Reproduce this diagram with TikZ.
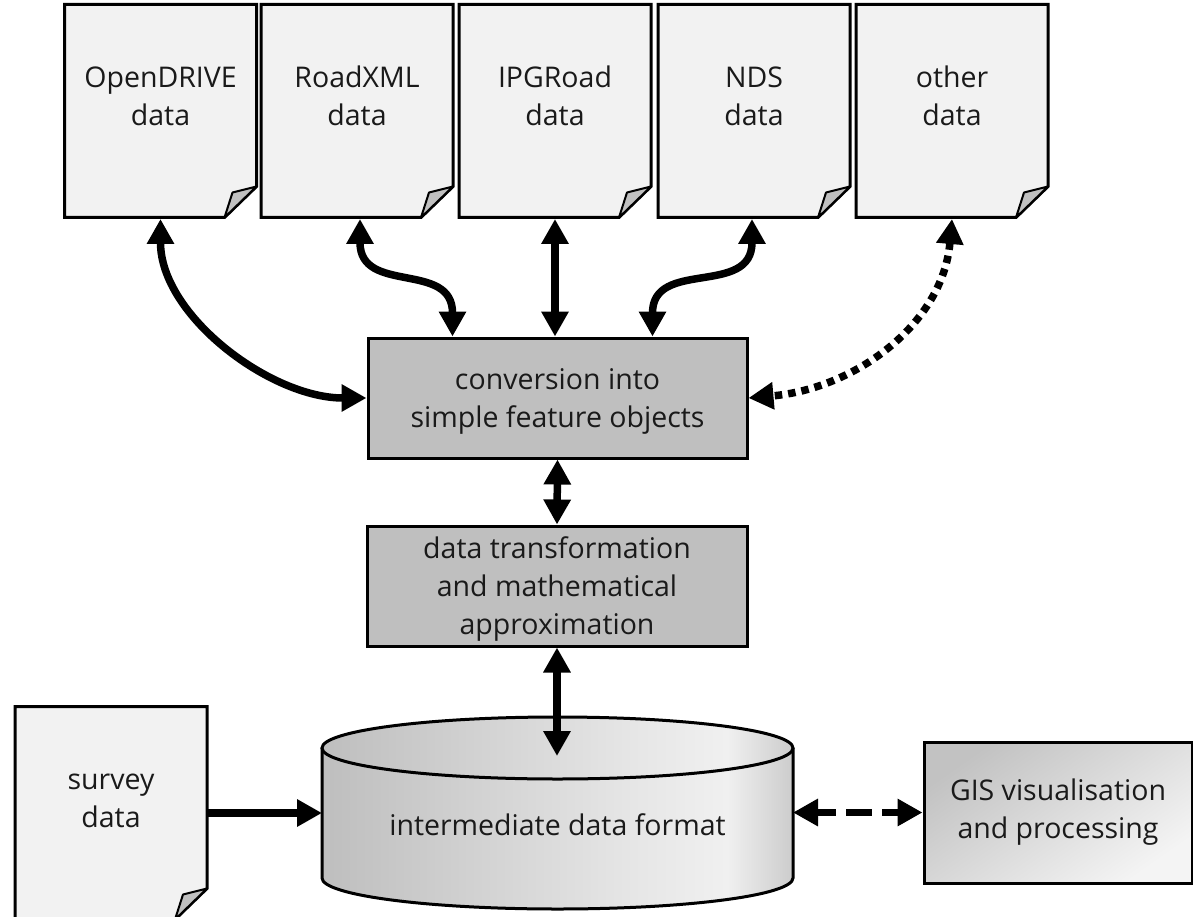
\documentclass[tikz,border=0pt]{standalone}
\usepackage{fontspec}
\setmainfont{Open Sans}
\usetikzlibrary{arrows.meta,backgrounds}
\definecolor{docfill}{HTML}{F2F2F2}
\definecolor{foldfill}{HTML}{C0C0C0}
\definecolor{boxfill}{HTML}{BFBFBF}
\definecolor{cylA}{HTML}{BEBEBE}
\definecolor{cylB}{HTML}{E6E6E6}
\definecolor{cylC}{HTML}{F0F0F0}
\definecolor{cylD}{HTML}{CCCCCC}
\definecolor{gisA}{HTML}{C2C2C2}
\definecolor{gisB}{HTML}{F4F4F4}
\definecolor{txt}{HTML}{1A1A1A}
\pgfdeclarehorizontalshading{cylshade}{100bp}{color(0bp)=(cylA); color(25bp)=(cylA); color(58bp)=(cylB); color(68bp)=(cylC); color(75bp)=(cylD); color(100bp)=(cylD)}
\begin{document}
\begin{tikzpicture}[x=1pt,y=-1pt,
  every node/.style={font=\fontsize{28.5pt}{38pt}\selectfont, text=txt},
  docnode/.style={minimum width=192pt, minimum height=183pt, inner sep=0pt, outer sep=0pt, align=center},
  procbox/.style={draw, line width=3pt, fill=boxfill, align=center, inner sep=0pt},
  gisbox/.style={draw, line width=3pt, top color=gisA, bottom color=gisB, shading angle=35, align=center, inner sep=0pt},
  docline/.style={draw, line width=3pt, fill=docfill, line join=miter},
  foldline/.style={draw, line width=2pt, fill=foldfill, line join=round},
  >={Triangle[length=25pt,width=26pt]},
  darr/.style={line width=7.5pt, <->},
  sarr/.style={line width=7.5pt, ->},
  dotarr/.style={dash pattern=on 7.5pt off 6pt},
  dasharr/.style={dash pattern=on 26pt off 10pt, dash phase=6pt}
]
\useasboundingbox (0,0) rectangle (1193,917);

% documents
\node[docnode] (od)  at (160.5,96) {OpenDRIVE\\data};
\node[docnode] (rx)  at (357,96)   {RoadXML\\data};
\node[docnode] (ipg) at (555,96)   {IPGRoad\\data};
\node[docnode] (nds) at (754,96)   {NDS\\data};
\node[docnode] (oth) at (952,96)   {other\\data};
\node[docnode] (sv)  at (111,798)  {survey\vphantom{d}\\data};

% process boxes
\node[procbox, minimum width=379pt, minimum height=120pt] (conv) at (557.5,398) {conversion into\\\smash{simple feature objects}};
\node[procbox, minimum width=380pt, minimum height=120pt] (dt) at (557,586) {data transformation\\and mathematical\\\smash{approximation}};
\node[gisbox, minimum width=268pt, minimum height=141pt] (gis) at (1058,812.5) {GIS visualisation\\and processing};
\node[minimum width=471pt, minimum height=138pt, inner sep=0pt, outer sep=0pt] (idf) at (557.5,825) {intermediate data format};

\begin{scope}[on background layer]
  \foreach \n in {od,rx,ipg,nds,oth,sv}{
    \path[docline] (\n.north west) -- (\n.north east) -- ([yshift=1pt]\n.south east)
      -- ([xshift=-32pt,yshift=-30pt]\n.south east) -- ([yshift=-30pt]\n.south west) -- cycle;
    \path[foldline] ([xshift=-32pt,yshift=-30pt]\n.south east) -- ([xshift=-24pt,yshift=-5pt]\n.south east)
      -- ([yshift=1pt]\n.south east) -- cycle;
    \coordinate (\n-b) at ([yshift=-31.5pt]\n.south);
  }
  % cylinder
  \shade[shading=cylshade] (322,748) -- (322,878)
     arc[start angle=180,end angle=360,x radius=235.5pt,y radius=31pt] -- (793,748) -- cycle;
  \draw[line width=3pt] (322,748) -- (322,878)
     arc[start angle=180,end angle=360,x radius=235.5pt,y radius=31pt] -- (793,748);
  \shadedraw[shading=cylshade, line width=3pt] (557.5,748) ellipse[x radius=235.5pt, y radius=31pt];
\end{scope}

% connectors
\draw[darr] (od-b) to[out=-90,in=180,looseness=0.9] (conv.west);
\draw[darr] ([xshift=3pt]rx-b) to[out=-90,in=90,looseness=1.3] ([xshift=-105pt]conv.north);
\draw[darr] (ipg-b) -- (ipg-b |- conv.north);
\draw[darr] ([xshift=-2pt]nds-b) to[out=-90,in=90,looseness=1.3] ([xshift=95pt]conv.north);
\draw[darr, dotarr] (oth-b) to[out=-95,in=5] (conv.east);
\draw[darr] (conv.south) -- (dt.north);
\draw[darr] (dt.south) -- (dt.south |- idf.north);
\draw[sarr] ([yshift=-15pt]sv.east) -- ([yshift=-15pt]sv.east -| idf.west);
\draw[darr, dasharr] (idf.east |- gis.west) -- (gis.west);
\end{tikzpicture}
\end{document}
